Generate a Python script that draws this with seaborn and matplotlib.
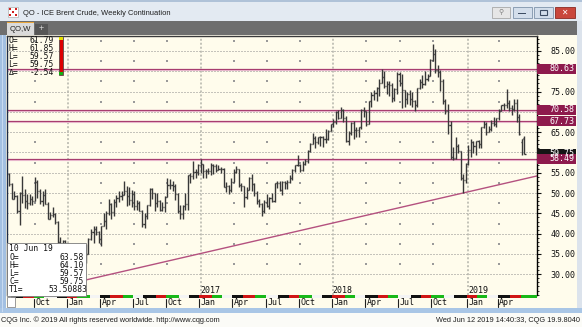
import numpy as np
import pandas as pd
import matplotlib
matplotlib.use("Agg")
import matplotlib.pyplot as plt
import matplotlib.dates as mdates
import matplotlib.transforms as mtransforms
from matplotlib.patches import Rectangle
from matplotlib.ticker import MultipleLocator
import seaborn as sns

sns.set_style("white")
plt.rcParams['font.family'] = ['DejaVu Sans']

# ---------------- data (weekly bars, ICE Brent continuation) ----------------
week_start = "2015-07-27"
week_end = "2019-06-10"

open_ = [
    # 2015
    54.6, 52.2, 48.6, 49.2, 45.5, 50.0, 49.6, 48.1, 47.5, 48.6, 48.1, 52.7, 50.5, 48.0, 49.6, 47.4, 43.6, 44.7, 44.9, 43.0, 37.9, 36.9, 38.1,
    # 2016
    37.3, 33.6, 28.9, 32.2, 34.7, 34.1, 33.4, 35.1, 35.1, 38.7, 40.4, 41.2, 40.4, 38.7, 41.9, 43.1, 45.1, 47.4, 45.4, 47.8, 48.7, 49.3,
    49.6, 50.5, 49.2, 48.4, 49.7, 46.8, 47.6, 45.7, 42.5, 44.3, 47.0, 50.9, 49.9, 47.6, 48.0, 45.8, 46.5, 49.0, 51.9, 51.9, 51.8, 49.7,
    45.6, 44.8, 46.9, 47.2, 54.5, 54.3, 55.2, 55.2,
    # 2017
    56.8, 57.1, 55.5, 55.5, 55.5, 56.8, 56.7, 55.8, 56.0, 55.9, 51.4, 51.8, 50.8, 52.8, 55.2, 55.9, 52.0, 51.7, 49.1, 50.8, 53.6, 52.2,
    49.9, 48.1, 47.4, 45.5, 47.9, 46.7, 48.9, 48.1, 52.5, 52.4, 50.7, 52.7, 52.4, 52.8, 53.8, 55.6, 56.9, 57.0, 55.6, 57.2, 57.8, 60.4,
    62.1, 63.5, 62.7, 63.9, 63.7, 63.4, 63.2, 65.3,
    # 2018
    66.9, 67.6, 69.9, 68.6, 70.5, 68.6, 62.8, 64.8, 67.3, 65.5, 65.5, 66.2, 70.5, 70.3, 67.1, 72.6, 74.1, 74.6, 75.9, 77.1, 78.5, 76.4,
    76.8, 76.5, 73.4, 75.6, 79.4, 77.1, 75.3, 73.1, 74.3, 73.2, 72.8, 71.8, 75.8, 77.4, 76.8, 78.1, 78.8, 82.7, 84.2, 80.4, 79.8, 77.6,
    72.8, 70.2, 66.8, 58.8, 58.7, 61.7, 60.3, 53.8,
    # 2019
    53.2, 57.1, 60.5, 62.7, 61.6, 62.8, 62.1, 66.3, 67.1, 65.1, 65.7, 67.2, 67.0, 68.4, 70.3, 71.6, 71.6, 72.2, 70.9, 70.6, 72.2, 68.7,
    62.5, 63.58,
]
high = [
    55.0, 52.6, 50.4, 49.6, 50.3, 54.3, 51.0, 49.7, 49.7, 49.2, 53.9, 53.2, 50.9, 50.5, 50.9, 47.8, 45.3, 46.5, 45.0, 43.2, 39.2, 38.4, 38.5,
    37.8, 34.0, 32.2, 36.2, 36.3, 34.8, 35.6, 37.5, 39.0, 41.1, 42.0, 42.0, 40.6, 42.0, 45.0, 45.6, 48.5, 47.5, 48.6, 49.5, 50.5, 50.5,
    52.9, 51.8, 51.4, 50.8, 50.4, 48.3, 48.0, 45.8, 45.0, 47.0, 51.2, 51.2, 50.0, 50.1, 48.4, 47.7, 49.3, 53.7, 53.5, 53.0, 52.3, 50.0,
    47.0, 47.1, 49.9, 54.5, 55.0, 57.9, 55.9, 57.1,
    58.4, 57.1, 56.0, 56.2, 57.3, 57.1, 57.2, 57.0, 56.5, 56.3, 52.7, 52.0, 53.7, 55.9, 56.6, 56.0, 52.4, 51.8, 51.5, 54.0, 54.7, 52.6,
    50.5, 48.6, 47.5, 48.2, 49.7, 49.1, 49.9, 52.5, 53.0, 53.0, 53.0, 53.1, 53.2, 54.5, 56.0, 57.0, 59.5, 57.2, 57.9, 58.5, 60.5, 62.3,
    64.7, 64.1, 63.9, 64.0, 64.0, 65.8, 65.6, 67.0,
    68.3, 70.1, 70.4, 71.3, 70.7, 69.0, 65.2, 67.4, 67.7, 66.4, 66.3, 70.6, 71.3, 70.3, 72.6, 74.8, 75.5, 76.1, 78.0, 80.5, 80.1, 77.5,
    77.6, 77.0, 75.9, 79.9, 79.9, 79.4, 75.5, 74.9, 75.5, 74.8, 73.0, 76.0, 78.2, 79.0, 80.1, 79.3, 83.0, 86.7, 85.4, 81.6, 80.4, 78.1,
    73.2, 72.0, 67.7, 61.3, 63.7, 62.2, 60.4, 54.8,
    57.4, 61.9, 63.3, 62.9, 62.9, 63.1, 66.4, 67.7, 67.5, 66.6, 68.0, 68.7, 68.6, 70.6, 71.7, 72.3, 75.6, 72.9, 71.6, 73.1, 73.2, 69.6,
    63.4, 64.10,
]
low = [
    51.8, 48.6, 48.5, 45.1, 42.2, 47.6, 46.4, 46.1, 47.0, 47.1, 48.0, 48.9, 47.3, 46.8, 47.4, 43.6, 43.5, 44.2, 42.4, 37.3, 36.3, 36.0, 36.1,
    32.2, 28.8, 27.88, 30.4, 33.1, 30.0, 32.2, 32.8, 35.0, 38.5, 37.8, 39.6, 37.7, 37.0, 41.9, 41.2, 44.6, 43.6, 44.3, 46.6, 47.9, 48.3,
    49.6, 46.7, 47.1, 46.6, 45.9, 45.9, 45.6, 41.6, 41.5, 43.6, 46.9, 48.5, 45.6, 46.6, 45.6, 45.5, 45.4, 49.0, 51.0, 50.5, 48.3, 45.2,
    43.6, 43.6, 45.8, 45.9, 52.5, 53.5, 53.8, 54.4,
    54.9, 53.6, 53.6, 54.8, 54.5, 54.6, 55.1, 55.6, 55.0, 51.4, 50.3, 49.7, 50.2, 52.8, 55.0, 51.6, 50.6, 46.6, 48.5, 50.7, 50.6, 49.2,
    47.2, 46.6, 44.4, 45.1, 46.6, 46.2, 47.8, 47.7, 51.2, 50.6, 49.6, 51.0, 50.9, 52.4, 53.3, 55.1, 56.6, 55.1, 55.4, 56.9, 57.3, 60.2,
    62.0, 61.1, 62.0, 61.7, 61.3, 62.4, 63.1, 65.2,
    66.4, 67.1, 68.3, 68.6, 67.5, 62.5, 61.8, 64.2, 63.3, 63.7, 63.9, 65.7, 68.8, 66.6, 67.0, 71.2, 73.0, 72.8, 73.9, 77.1, 76.0, 74.5,
    74.0, 72.4, 72.6, 74.5, 76.3, 71.0, 71.2, 72.0, 71.6, 71.2, 70.3, 71.3, 75.6, 75.8, 76.6, 77.7, 78.8, 82.6, 79.7, 78.5, 75.1, 72.0,
    69.6, 64.6, 58.4, 58.1, 58.5, 59.8, 53.3, 50.0,
    52.5, 56.8, 58.8, 59.9, 59.4, 61.0, 61.2, 66.1, 64.3, 65.0, 65.3, 66.6, 66.2, 67.9, 70.1, 70.4, 70.9, 70.2, 69.2, 70.3, 67.6, 64.4,
    59.5, 59.57,
]
close = [
    52.2, 48.6, 49.2, 45.5, 50.0, 49.6, 48.1, 47.5, 48.6, 48.1, 52.7, 50.5, 48.0, 49.6, 47.4, 43.6, 44.7, 44.9, 43.0, 37.9, 36.9, 38.1, 37.3,
    33.6, 28.9, 32.2, 34.7, 34.1, 33.4, 35.1, 35.1, 38.7, 40.4, 41.2, 40.4, 38.7, 41.9, 43.1, 45.1, 47.4, 45.4, 47.8, 48.7, 49.3, 49.6,
    50.5, 49.2, 48.4, 49.7, 46.8, 47.6, 45.7, 42.5, 44.3, 47.0, 50.9, 49.9, 47.6, 48.0, 45.8, 46.5, 49.0, 51.9, 51.9, 51.8, 49.7, 45.6,
    44.8, 46.9, 47.2, 54.5, 54.3, 55.2, 55.2, 56.8,
    57.1, 55.5, 55.5, 55.5, 56.8, 56.7, 55.8, 56.0, 55.9, 51.4, 51.8, 50.8, 52.8, 55.2, 55.9, 52.0, 51.7, 49.1, 50.8, 53.6, 52.2, 49.9,
    48.1, 47.4, 45.5, 47.9, 46.7, 48.9, 48.1, 52.5, 52.4, 50.7, 52.7, 52.4, 52.8, 53.8, 55.6, 56.9, 57.0, 55.6, 57.2, 57.8, 60.4, 62.1,
    63.5, 62.7, 63.9, 63.7, 63.4, 63.2, 65.3, 66.9,
    67.6, 69.9, 68.6, 70.5, 68.6, 62.8, 64.8, 67.3, 65.5, 65.5, 66.2, 70.5, 70.3, 67.1, 72.6, 74.1, 74.6, 75.9, 77.1, 78.5, 76.4, 76.8,
    76.5, 73.4, 75.6, 79.4, 77.1, 75.3, 73.1, 74.3, 73.2, 72.8, 71.8, 75.8, 77.4, 76.8, 78.1, 78.8, 82.7, 84.2, 80.4, 79.8, 77.6, 72.8,
    70.2, 66.8, 58.8, 58.7, 61.7, 60.3, 53.8, 53.2,
    57.1, 60.5, 62.7, 61.6, 62.8, 62.1, 66.3, 67.1, 65.1, 65.7, 67.2, 67.0, 68.4, 70.3, 71.6, 71.6, 72.2, 70.9, 70.6, 72.2, 68.7, 64.5,
    63.3, 59.75,
]

levels = [80.63, 70.58, 67.73, 58.49]
last_price = 59.75
trend_dates = ["2016-01-18", "2019-06-10"]
trend_values = [27.88, 53.50883]
y_ticks = [30, 35, 40, 45, 50, 55, 60, 65, 70, 75, 80, 85]
quarter_names = {1: "Jan", 4: "Apr", 7: "Jul", 10: "Oct"}
info_top = [("O=", "61.79"), ("H=", "61.85"), ("L=", "59.57"), ("L=", "59.75"), ("Δ=", "-2.54")]
info_bar_date = "10 Jun 19"
info_bar = [("O=", "63.58"), ("H=", "64.10"), ("L=", "59.57"), ("C=", "59.75"), ("T1=", "53.50883")]
title = "QO - ICE Brent Crude, Weekly Continuation"
tab_label = "QO,W"
footer_left = "CQG Inc. © 2019 All rights reserved worldwide. http://www.cqg.com"
footer_right = "Wed Jun 12 2019 14:40:33, CQG 19.9.8040"

# ---------------- layout ----------------
W, H = 582, 327
MONO = 'DejaVu Sans Mono'
SANS = 'Liberation Sans'
CREAM = '#FFFCEC'
BAR_C = '#383838'
LEVEL_C = '#A5386B'
LEVEL_C2 = '#E7B5CB'
TREND_C = '#B4517F'
MAROON = '#8E1A4D'
FS = 5.8

AX_L, AX_R, AX_T, AX_B = 7, 537, 36, 295
YMIN, YMAX = 24.90, 88.69
PX_PER_WEEK = 2.55

weeks = pd.date_range(week_start, week_end, freq="W-MON")
xs = mdates.date2num(weeks)
d0 = mdates.date2num(pd.Timestamp("2016-01-04"))
day_px = PX_PER_WEEK / 7.0
XMIN = d0 - (68 - AX_L) / day_px
XMAX = d0 + (AX_R - 68) / day_px

fig = plt.figure(figsize=(W / 100, H / 100), dpi=100)
fig.patch.set_facecolor(CREAM)

bg = fig.add_axes([0, 0, 1, 1], zorder=0)
bg.set_xlim(0, W); bg.set_ylim(H, 0); bg.axis('off')

def prect(a, x0, y0, x1, y1, fc, ec='none', lw=0.8, z=1):
    a.add_patch(Rectangle((x0, y0), x1 - x0, y1 - y0, fc=fc, ec=ec, lw=lw, zorder=z))

# window chrome
prect(bg, 0, 0, W, 21, '#E3EAF2')
prect(bg, 0, 0, W, 1.5, '#AFC2D8')
prect(bg, 0, 21, W, 35, '#6E6E6E')
prect(bg, 7, 22.5, 34, 35, '#DADADA')
prect(bg, 7, 22, 34, 23.2, '#E9A53A', z=2)
prect(bg, 35, 23.5, 48, 35, '#565656')
bg.text(20.5, 29.3, tab_label, fontsize=5.6, family=SANS, ha='center', va='center', color='#202020')
bg.text(41.5, 29.0, "+", fontsize=6.5, family=SANS, ha='center', va='center', color='#D8D8D8')
# icon
prect(bg, 8, 7, 18, 17, '#FFFFFF', ec='#B0B0B0', lw=0.5)
for ix in range(3):
    for iy in range(3):
        if (ix + iy) % 2 == 0:
            prect(bg, 9 + ix * 3, 8 + iy * 3, 11 + ix * 3, 10 + iy * 3, '#D02020', z=2)
bg.text(23, 13.2, title, fontsize=5.4, family=SANS, ha='left', va='center', color='#1E1E1E')
# window buttons
prect(bg, 492, 7, 510, 17.5, '#E6E6E6', ec='#A8A8A8', lw=0.6)
bg.text(501, 12.3, "⚲", fontsize=5, ha='center', va='center', color='#808080')
prect(bg, 512.5, 7, 532, 17.5, '#D3DEEB', ec='#7F93AB', lw=0.6)
prect(bg, 518, 12.5, 526, 14, '#3D4D63', z=2)
prect(bg, 533.5, 7, 553, 17.5, '#D3DEEB', ec='#7F93AB', lw=0.6)
prect(bg, 539.5, 9.5, 547, 15, 'none', ec='#3D4D63', lw=0.8, z=2)
prect(bg, 554.5, 7, 575, 17.5, '#C9473C', ec='#8B2A22', lw=0.6)
bg.text(564.7, 12.3, "✕", fontsize=5.5, ha='center', va='center', color='white', fontweight='bold')

# frame
prect(bg, 0, 35, 6, 312, '#A3C0E2')
prect(bg, 1.5, 35, 3, 312, '#C7DAF0', z=2)
prect(bg, 577, 21, W, 312, '#DCE3EC')
prect(bg, 0, 308, W, 312.5, '#A9C6E6')
prect(bg, 0, 312.5, W, H, '#FBFBF7')
bg.text(1, 320, footer_left, fontsize=5.3, family=SANS, ha='left', va='center', color='#202020')
bg.text(580, 320, footer_right, fontsize=5.3, family=SANS, ha='right', va='center', color='#202020')

# ---------------- main chart ----------------
ax = fig.add_axes([AX_L / W, 1 - AX_B / H, (AX_R - AX_L) / W, (AX_B - AX_T) / H], zorder=1)
ax.set_facecolor(CREAM)
ax.set_xlim(XMIN, XMAX)
ax.set_ylim(YMIN, YMAX)

# gridlines
ax.hlines(y_ticks, XMIN, XMAX, colors='#8C8C8C', lw=0.72, linestyles=(0, (1, 2)), zorder=1)
first_of_month = [i for i in range(1, len(xs)) if weeks[i - 1].month != weeks[i].month]
jan_idx = [i for i in first_of_month if weeks[i].month == 1]
qtr_idx = [i for i in first_of_month if weeks[i].month in quarter_names]
jan_x = [xs[i] for i in jan_idx]
minor_x = [xs[i] for i in qtr_idx if weeks[i].month != 1]
ax.vlines(jan_x, YMIN, YMAX, colors='#B3B3AA', lw=1.1, linestyles=(0, (1.3, 1.3)), zorder=1)
mx, my = np.meshgrid(minor_x, np.array(y_ticks) + 2.5)
ax.scatter(mx.ravel(), my.ravel(), s=0.6, marker='s', color='#9A9A9A', lw=0, zorder=1)

# level lines
for v in levels:
    ax.axhline(v, color=LEVEL_C, lw=0.9, zorder=2)
    ax.axhline(v - 1.0 / 4.06, color=LEVEL_C2, lw=0.8, zorder=2)

# trendline via seaborn
tx = mdates.date2num(pd.to_datetime(trend_dates))
slope = (trend_values[1] - trend_values[0]) / (tx[1] - tx[0])
line_x = np.array([tx[0], XMAX])
line_y = trend_values[0] + slope * (line_x - tx[0])
sns.lineplot(x=line_x, y=line_y, ax=ax, color=TREND_C, lw=1.0, zorder=2, legend=False)
ax.set_xlabel(''); ax.set_ylabel('')
ax.set_xlim(XMIN, XMAX); ax.set_ylim(YMIN, YMAX)

# OHLC bars
tick_d = 3.0
ax.vlines(xs, low, high, colors=BAR_C, lw=1.0, zorder=3)
ax.hlines(open_, xs - tick_d, xs, colors=BAR_C, lw=1.0, zorder=3)
ax.hlines(close, xs, xs + tick_d, colors=BAR_C, lw=1.0, zorder=3)

# spines / ticks
ax.spines['bottom'].set_visible(False)
ax.spines['left'].set_color('#1E2C48'); ax.spines['left'].set_linewidth(1.0)
ax.spines['top'].set_color('#3A3A3A'); ax.spines['top'].set_linewidth(1.0)
ax.spines['right'].set_color('#000000'); ax.spines['right'].set_linewidth(1.0)
ax.set_xticks([])
ax.yaxis.tick_right()
ax.set_yticks(y_ticks)
box_vals = levels + [last_price]
box_half = 5.0 / 4.06
tick_labels = ["" if any(abs(v - b) < box_half for b in box_vals) else f"{v:.2f}" for v in y_ticks]
ax.set_yticklabels(tick_labels, fontfamily=MONO, fontsize=6.0)
ax.yaxis.set_minor_locator(MultipleLocator(1))
ax.tick_params(axis='y', which='major', length=3, width=0.8, direction='out', pad=6.6, colors='#111111')
ax.tick_params(axis='y', which='minor', length=1.6, width=0.6, direction='out', colors='#111111')

# right-axis value boxes
ty = mtransforms.blended_transform_factory(ax.transAxes, ax.transData)
bw = 39.0 / (AX_R - AX_L)
bh = 10.0 / 4.06
box_specs = [(v, MAROON) for v in levels[:3]] + [(last_price, '#151515'), (levels[3], MAROON)]
for v, c in box_specs:
    ax.add_patch(Rectangle((1.0, v - bh / 2), bw, bh, transform=ty, fc=c, ec='none', clip_on=False, zorder=6))
    ax.text(1.0 + 37.0 / (AX_R - AX_L), v, f"{v:.2f}", transform=ty, ha='right', va='center',
            fontsize=6.0, family=MONO, color='white', zorder=7, clip_on=False)

# time axis strip, month ticks and labels
tx_ax = mtransforms.blended_transform_factory(ax.transData, ax.transAxes)
fy = 1.0 / (AX_B - AX_T)
month_idx = [0] + first_of_month
strip_cols = {0: '#111111', 1: '#D01515', 2: '#18B818', 3: '#F4F4F4'}
bounds = [XMIN] + [xs[i] - 3.5 for i in month_idx[1:]] + [XMAX]
for k in range(len(bounds) - 1):
    m = weeks[month_idx[k]].month
    ax.add_patch(Rectangle((bounds[k], -3.0 * fy), bounds[k + 1] - bounds[k], 3.0 * fy, transform=tx_ax,
                           fc=strip_cols[m % 4], ec='none', clip_on=False, zorder=4))
for i in qtr_idx:
    x = xs[i] - 3.5
    ax.plot([x, x], [-3.5 * fy, -11.5 * fy], transform=tx_ax, color='#202020', lw=0.8, clip_on=False, zorder=4)
    ax.text(x + 1.5 / day_px, -7.5 * fy, quarter_names[weeks[i].month], transform=tx_ax, ha='left', va='center',
            fontsize=6.0, family=MONO, color='#111111', clip_on=False)
    if weeks[i].month == 1 and weeks[i].year > 2016:
        ax.text(x + 1.0 / day_px, 4.5 * fy, str(weeks[i].year), transform=tx_ax, ha='left', va='center',
                fontsize=6.0, family=MONO, color='#111111', zorder=4)

# ---------------- overlays ----------------
ov = fig.add_axes([0, 0, 1, 1], zorder=3)
ov.set_xlim(0, W); ov.set_ylim(H, 0); ov.axis('off'); ov.patch.set_alpha(0)

# top-left quote box
for k, (lab, val) in enumerate(info_top):
    y = 40.5 + k * 8.0
    ov.text(8.5, y, lab, fontsize=FS, family=MONO, ha='left', va='center', color='#111111')
    ov.text(54, y, val, fontsize=FS, family=MONO, ha='right', va='center', color='#111111')
prect(ov, 59, 37, 63, 75, '#DD0000', ec='#404040', lw=0.5)
prect(ov, 59.3, 37.3, 62.7, 40, '#E4E000', z=2)
prect(ov, 59.3, 71.5, 62.7, 74.7, '#12B012', z=2)

# bottom-left cursor box
prect(ov, 7, 243, 86, 296, '#FFFFFF', ec='#7A7A7A', lw=0.6)
ov.text(9, 248.5, info_bar_date, fontsize=FS, family=MONO, ha='left', va='center', color='#111111')
for k, (lab, val) in enumerate(info_bar):
    y = 257 + k * 8.0
    ov.text(9, y, lab, fontsize=FS, family=MONO, ha='left', va='center', color='#111111')
    ov.text(87.5 if lab == "T1=" else 84, y, val, fontsize=FS, family=MONO, ha='right', va='center', color='#111111')
prect(ov, 7, 297, 15, 307, '#FFFFFF', ec='#8A8A8A', lw=0.6)

fig.savefig("out.png", dpi=100, facecolor=fig.get_facecolor())
